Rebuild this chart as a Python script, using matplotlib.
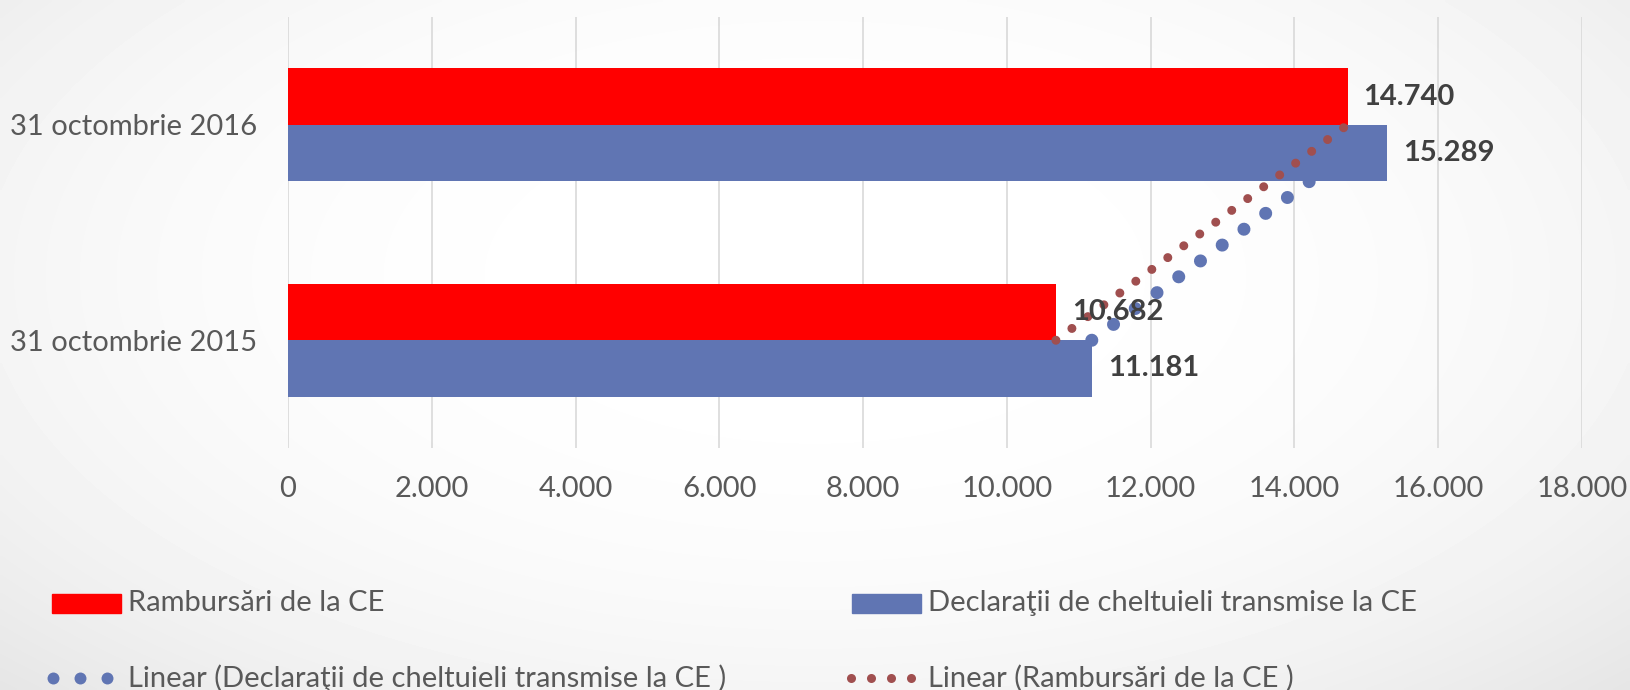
import numpy as np
import matplotlib
matplotlib.use('Agg')
import matplotlib.pyplot as plt
from matplotlib.lines import Line2D
from matplotlib.patches import Rectangle
from matplotlib.ticker import FuncFormatter

plt.rcParams['font.family'] = ['Lato', 'DejaVu Sans']

# ── Data ──────────────────────────────────────────────────────────────
categories = ['31 octombrie 2015', '31 octombrie 2016']
rambursari = [10682, 14740]      # Rambursări de la CE
declaratii = [11181, 15289]      # Declaraţii de cheltuieli transmise la CE
x_ticks = [0, 2000, 4000, 6000, 8000, 10000, 12000, 14000, 16000, 18000]

lbl_ramb = 'Rambursări de la CE'
lbl_decl = 'Declaraţii de cheltuieli transmise la CE'
lbl_lin_decl = 'Linear (Declaraţii de cheltuieli transmise la CE )'
lbl_lin_ramb = 'Linear (Rambursări de la CE )'

RED = '#FF0000'
BLUE = '#6075B3'
RED_TR = '#A04F4F'
TXT = '#595959'
LBL = '#404040'
GRID = '#D9D9D9'
FS = 21

W, H = 1630, 690
fig = plt.figure(figsize=(W / 100, H / 100), dpi=100)

# background: soft radial gradient, white in the middle, grey towards the corners
bg = fig.add_axes([0, 0, 1, 1], zorder=-10)
gx, gy = np.meshgrid(np.linspace(-1, 1, 400), np.linspace(-1, 1, 200))
r2 = (gx ** 2 + ((gy + 0.2) / 1.2) ** 2) / 2
bg.imshow(1 - 0.10 * r2 ** 1.3, cmap='gray', vmin=0, vmax=1,
          extent=[0, 1, 0, 1], aspect='auto', interpolation='bilinear')
bg.axis('off')

ax = fig.add_axes([288 / W, 1 - 448 / H, (1582 - 288) / W, (448 - 17) / H])
ax.set_facecolor('none')

y = np.arange(len(categories))
bh = 0.262
ax.barh(y + bh / 2, rambursari, height=bh, color=RED, zorder=3)
ax.barh(y - bh / 2, declaratii, height=bh, color=BLUE, zorder=3)

# linear trendlines (fit on category index)
for vals, col, lw, gap in [(declaratii, BLUE, 9.4, 2.06), (rambursari, RED_TR, 6.5, 2.2)]:
    k, b = np.polyfit(y, vals, 1)
    ax.plot(k * y + b, y, color=col, lw=lw, dashes=(0.001, gap),
            dash_capstyle='round', zorder=4)

# data labels
fmt = lambda v: f'{int(v):,}'.replace(',', '.')
for i in range(len(categories)):
    ax.annotate(fmt(rambursari[i]), (rambursari[i], y[i] + bh / 2),
                xytext=(11.5, 0), textcoords='offset points', ha='left', va='center',
                fontsize=FS, fontweight='bold', color=LBL, zorder=6)
    ax.annotate(fmt(declaratii[i]), (declaratii[i], y[i] - bh / 2),
                xytext=(11.5, 0), textcoords='offset points', ha='left', va='center',
                fontsize=FS, fontweight='bold', color=LBL, zorder=6)

ax.set_xlim(0, 18000)
ax.set_ylim(-0.5, 1.5)
ax.set_xticks(x_ticks)
ax.xaxis.set_major_formatter(FuncFormatter(lambda v, p: fmt(v)))
ax.set_yticks(y)
ax.set_yticklabels(categories)
ax.tick_params(axis='x', length=0, pad=20, labelsize=FS, labelcolor=TXT)
ax.tick_params(axis='y', length=0, pad=22, labelsize=FS, labelcolor=TXT)
ax.grid(axis='x', color=GRID, lw=1.2, zorder=0)
ax.set_axisbelow(True)
for s in ax.spines.values():
    s.set_visible(False)

# legend, placed by hand in pixel positions
def fx(px): return px / W
def fy(py): return 1 - py / H

fig.add_artist(Rectangle((fx(52), fy(613)), 69 / W, 19 / H, color=RED, transform=fig.transFigure))
fig.text(fx(128), fy(603), lbl_ramb, fontsize=FS, color=TXT, va='center', ha='left')
fig.add_artist(Rectangle((fx(852), fy(613)), 69 / W, 19 / H, color=BLUE, transform=fig.transFigure))
fig.text(fx(928), fy(603), lbl_decl, fontsize=FS, color=TXT, va='center', ha='left')

fig.add_artist(Line2D([fx(53), fx(80), fx(107)], [fy(678)] * 3, ls='none', marker='o',
                      ms=8.6, color=BLUE, mec='none', transform=fig.transFigure))
fig.text(fx(128), fy(678), lbl_lin_decl, fontsize=FS, color=TXT, va='center', ha='left')
fig.add_artist(Line2D([fx(851), fx(871), fx(891), fx(911)], [fy(678)] * 4, ls='none', marker='o',
                      ms=6.5, color=RED_TR, mec='none', transform=fig.transFigure))
fig.text(fx(928), fy(678), lbl_lin_ramb, fontsize=FS, color=TXT, va='center', ha='left')

fig.savefig('out.png', dpi=100)
